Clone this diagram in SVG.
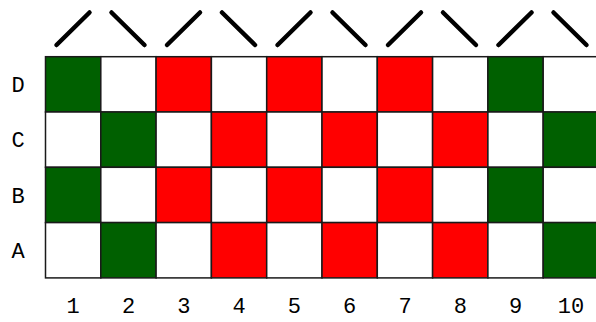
<svg xmlns="http://www.w3.org/2000/svg" width="596" height="322" viewBox="0 0 596 322">
<style>
.c{stroke:#1a1a1a;stroke-width:1.5}
.g{fill:#006000}
.r{fill:#ff0000}
.w{fill:#ffffff}
.s{stroke:#000;stroke-width:4.5;stroke-linecap:round;fill:none}
text{font-family:"Liberation Mono","DejaVu Sans Mono",monospace;font-size:22px;fill:#000;text-anchor:middle}
</style>
<rect width="596" height="322" fill="#fff"/>
<g id="slashes">
<line class="s" x1="56.5" y1="45" x2="89.5" y2="12.5"/>
<line class="s" x1="111.5" y1="12.5" x2="144.5" y2="45"/>
<line class="s" x1="167" y1="45" x2="200" y2="12.5"/>
<line class="s" x1="222" y1="12.5" x2="255" y2="45"/>
<line class="s" x1="277.5" y1="45" x2="310.5" y2="12.5"/>
<line class="s" x1="332.5" y1="12.5" x2="365.5" y2="45"/>
<line class="s" x1="388" y1="45" x2="421" y2="12.5"/>
<line class="s" x1="443" y1="12.5" x2="476" y2="45"/>
<line class="s" x1="498.5" y1="45" x2="531.5" y2="12.5"/>
<line class="s" x1="553.5" y1="12.5" x2="586.5" y2="45"/>
</g>
<g id="rowD">
<rect class="c g" x="45.5" y="56.7" width="55.3" height="55.3"/>
<rect class="c w" x="100.8" y="56.7" width="55.3" height="55.3"/>
<rect class="c r" x="156.1" y="56.7" width="55.3" height="55.3"/>
<rect class="c w" x="211.4" y="56.7" width="55.3" height="55.3"/>
<rect class="c r" x="266.7" y="56.7" width="55.3" height="55.3"/>
<rect class="c w" x="322" y="56.7" width="55.3" height="55.3"/>
<rect class="c r" x="377.3" y="56.7" width="55.3" height="55.3"/>
<rect class="c w" x="432.6" y="56.7" width="55.3" height="55.3"/>
<rect class="c g" x="487.9" y="56.7" width="55.3" height="55.3"/>
<rect class="c w" x="543.2" y="56.7" width="55.3" height="55.3"/>
</g>
<g id="rowC">
<rect class="c w" x="45.5" y="112" width="55.3" height="55.3"/>
<rect class="c g" x="100.8" y="112" width="55.3" height="55.3"/>
<rect class="c w" x="156.1" y="112" width="55.3" height="55.3"/>
<rect class="c r" x="211.4" y="112" width="55.3" height="55.3"/>
<rect class="c w" x="266.7" y="112" width="55.3" height="55.3"/>
<rect class="c r" x="322" y="112" width="55.3" height="55.3"/>
<rect class="c w" x="377.3" y="112" width="55.3" height="55.3"/>
<rect class="c r" x="432.6" y="112" width="55.3" height="55.3"/>
<rect class="c w" x="487.9" y="112" width="55.3" height="55.3"/>
<rect class="c g" x="543.2" y="112" width="55.3" height="55.3"/>
</g>
<g id="rowB">
<rect class="c g" x="45.5" y="167.3" width="55.3" height="55.3"/>
<rect class="c w" x="100.8" y="167.3" width="55.3" height="55.3"/>
<rect class="c r" x="156.1" y="167.3" width="55.3" height="55.3"/>
<rect class="c w" x="211.4" y="167.3" width="55.3" height="55.3"/>
<rect class="c r" x="266.7" y="167.3" width="55.3" height="55.3"/>
<rect class="c w" x="322" y="167.3" width="55.3" height="55.3"/>
<rect class="c r" x="377.3" y="167.3" width="55.3" height="55.3"/>
<rect class="c w" x="432.6" y="167.3" width="55.3" height="55.3"/>
<rect class="c g" x="487.9" y="167.3" width="55.3" height="55.3"/>
<rect class="c w" x="543.2" y="167.3" width="55.3" height="55.3"/>
</g>
<g id="rowA">
<rect class="c w" x="45.5" y="222.6" width="55.3" height="55.3"/>
<rect class="c g" x="100.8" y="222.6" width="55.3" height="55.3"/>
<rect class="c w" x="156.1" y="222.6" width="55.3" height="55.3"/>
<rect class="c r" x="211.4" y="222.6" width="55.3" height="55.3"/>
<rect class="c w" x="266.7" y="222.6" width="55.3" height="55.3"/>
<rect class="c r" x="322" y="222.6" width="55.3" height="55.3"/>
<rect class="c w" x="377.3" y="222.6" width="55.3" height="55.3"/>
<rect class="c r" x="432.6" y="222.6" width="55.3" height="55.3"/>
<rect class="c w" x="487.9" y="222.6" width="55.3" height="55.3"/>
<rect class="c g" x="543.2" y="222.6" width="55.3" height="55.3"/>
</g>
<g id="rowLabels">
<text x="18" y="92">D</text>
<text x="18" y="147.3">C</text>
<text x="18" y="202.6">B</text>
<text x="18" y="257.9">A</text>
</g>
<g id="colLabels">
<text x="73" y="312.5">1</text>
<text x="128.5" y="312.5">2</text>
<text x="183.8" y="312.5">3</text>
<text x="239" y="312.5">4</text>
<text x="294.3" y="312.5">5</text>
<text x="349.6" y="312.5">6</text>
<text x="405" y="312.5">7</text>
<text x="460.3" y="312.5">8</text>
<text x="515.6" y="312.5">9</text>
<text x="570.9" y="312.5">10</text>
</g>
</svg>
